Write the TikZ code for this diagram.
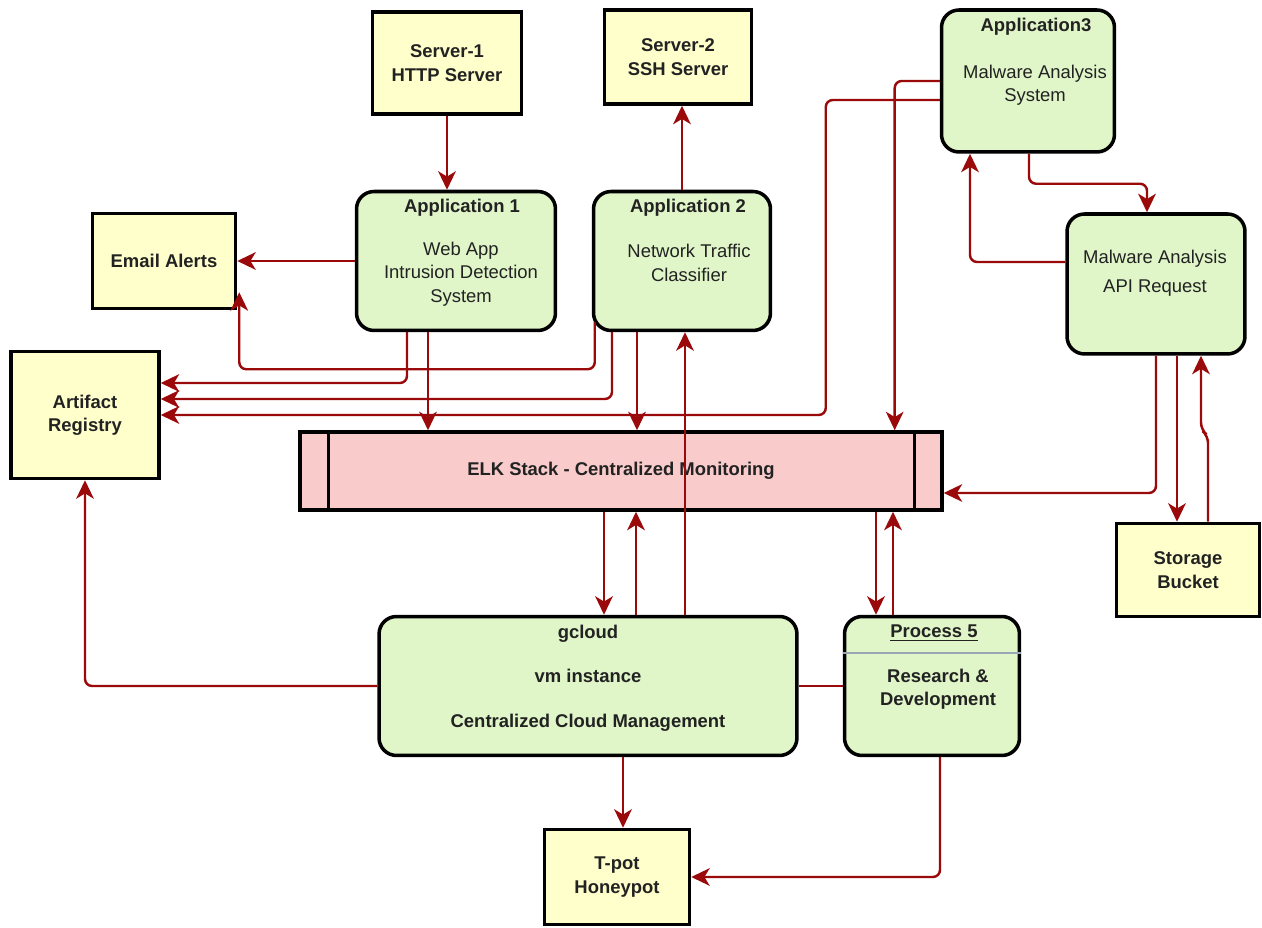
\documentclass[tikz,border=0pt]{standalone}
\usepackage{fontspec}
\setmainfont{Liberation Sans}
\usetikzlibrary{arrows.meta,positioning,calc}
\definecolor{flowColor}{HTML}{9B0A0A}
\definecolor{srvColor}{HTML}{FFFFCC}
\definecolor{appColor}{HTML}{E0F5C8}
\definecolor{elkColor}{HTML}{F9CBCB}
\definecolor{sepColor}{HTML}{98A8B4}
\definecolor{txtColor}{HTML}{222222}
\newcommand{\diagfont}{\fontsize{10.5}{13.3}\selectfont}
\tikzset{
	srvbox/.style={draw, line width=2pt, fill=srvColor, align=center, inner sep=2pt,
		font=\diagfont\bfseries, text=txtColor},
	appbox/.style={draw, line width=2pt, fill=appColor, rounded corners=3.5mm, inner sep=0},
	apptitle/.style={font=\diagfont\bfseries, text=txtColor, inner sep=1pt},
	appbody/.style={font=\diagfont, text=txtColor, align=center, inner sep=1pt},
	flow/.style={draw=flowColor, line width=1.4pt, rounded corners=4pt,
		-{Stealth[length=10.5pt,width=10pt,inset=3pt]}},
}

\begin{document}
\begin{tikzpicture}[x=0.02cm, y=-0.02cm]
	\useasboundingbox (0,0) rectangle (1262,928);
	% servers, alerts, storage
	\node[srvbox, minimum width=2.98cm, minimum height=2.04cm] (srv1) at (447,63) {Server-1\\HTTP Server};
	\node[srvbox, minimum width=2.94cm, minimum height=1.88cm] (srv2) at (678,57) {Server-2\\SSH Server};
	\node[srvbox, minimum width=2.86cm, minimum height=1.9cm] (email) at (164,261) {Email Alerts};
	\node[srvbox, minimum width=2.96cm, minimum height=2.54cm] (artifact) at (85,415) {Artifact\\Registry};
	\node[srvbox, minimum width=2.86cm, minimum height=1.86cm] (bucket) at (1188,570) {Storage\\Bucket};
	\node[srvbox, minimum width=2.9cm, minimum height=1.9cm] (tpot) at (617,877) {T-pot\\Honeypot};
	% applications
	\node[appbox, minimum width=3.98cm, minimum height=2.78cm] (app1) at (456,261) {};
	\node[apptitle] (app1_t) at (462,208) {Application 1};
	\node[appbody] (app1_b) at (461,274) {Web App\\Intrusion Detection\\System};
	\node[appbox, minimum width=3.54cm, minimum height=2.78cm] (app2) at (682,261) {};
	\node[apptitle] (app2_t) at (688,208) {Application 2};
	\node[appbody] (app2_b) at (689,263) {Network Traffic\\Classifier};
	\node[appbox, minimum width=3.46cm, minimum height=2.84cm] (app3) at (1028,81) {};
	\node[apptitle] (app3_t) at (1036,27) {Application3};
	\node[appbody] (app3_b) at (1035,85) {Malware Analysis\\System};
	\node[appbox, minimum width=3.56cm, minimum height=2.8cm] (api) at (1156,284) {};
	\node[appbody] (api_b) at (1155,273) {Malware Analysis\\[3pt]API Request};
	% monitoring and cloud
	\node[draw, line width=2pt, fill=elkColor, minimum width=12.84cm, minimum height=1.56cm,
		font=\diagfont\bfseries, text=txtColor] (elk) at (621,471) {ELK Stack - Centralized Monitoring};
	\draw[line width=2pt] ([xshift=0.6cm]elk.north west) -- ([xshift=0.6cm]elk.south west);
	\draw[line width=2pt] ([xshift=-0.58cm]elk.north east) -- ([xshift=-0.58cm]elk.south east);
	\node[appbox, minimum width=8.36cm, minimum height=2.78cm] (gcloud) at (588,686) {};
	\node[appbody, font=\diagfont\bfseries] (gcloud_t) at (588,678) {gcloud\\[12pt]vm instance\\[12pt]Centralized Cloud Management};
	\node[appbox, minimum width=3.5cm, minimum height=2.78cm] (proc5) at (932,686) {};
	\node[apptitle] (proc5_t) at (934,633) {\underline{Process 5}};
	\draw[sepColor, line width=1pt] ($(proc5.north west)+(0,38)$) -- ($(proc5.north east)+(0,38)$);
	\node[appbody, font=\diagfont\bfseries] (proc5_b) at (938,689) {Research \&\\Development};
	% connectors
	\draw[flow] (srv1.south) -- (srv1.south |- app1.north);
	\draw[flow] (app2.north) -- (app2.north |- srv2.south);
	\draw[flow] (app1.west) -- (app1.west -| email.east);
	\draw[flow] ($(app2.south west)+(3,-10)$) -- ++(0,47) -| ($(email.south east)+(2,-18)$);
	\draw[flow] ($(app1.south)+(-49,0)$) |- ($(artifact.east)+(0,-32)$);
	\draw[flow] ($(app2.south)+(-70,0)$) |- ($(artifact.east)+(0,-16)$);
	\draw[flow] ($(app3.west)+(0,19)$) -- ++(-114,0) |- (artifact.east);
	\draw[flow] ($(app1.south)+(-28,0)$) coordinate (c1) -- (c1 |- elk.north);
	\draw[flow] ($(app2.south)+(-45,0)$) coordinate (c2) -- (c2 |- elk.north);
	\draw[flow] (app3.west) -| ($(elk.north east)+(-49,0)$);
	\draw[flow] ($(gcloud.north)+(97,0)$) coordinate (c3) -- (c3 |- app2.south);
	\draw[flow] ($(elk.south)+(-17,0)$) coordinate (c4) -- (c4 |- gcloud.north);
	\draw[flow] ($(gcloud.north)+(48,0)$) coordinate (c5) -- (c5 |- elk.south);
	\draw[flow] ($(elk.south)+(255,0)$) coordinate (c6) -- (c6 |- proc5.north);
	\draw[flow] ($(proc5.north)+(-39,0)$) coordinate (c7) -- (c7 |- elk.south);
	\draw[flow] (api.south) |- ($(elk.east)+(0,22)$);
	\draw[flow] ($(api.south)+(21,0)$) coordinate (c8) -- (c8 |- bucket.north);
	\draw[flow] ($(bucket.north)+(20,0)$) -- ++(0,-86) -- ++(-7,-6) coordinate (c9) -- (c9 |- api.south);
	\draw[flow] ($(api.west)+(0,-22)$) -| ($(app3.south)+(-58,0)$);
	\draw[flow] ($(app3.south)+(1,0)$) -- ++(0,30) -| ($(api.north)+(-9,0)$);
	\draw[flow] (gcloud.west) -| (artifact.south);
	\draw[flow, -] (gcloud.east) -- (proc5.west);
	\draw[flow] ($(gcloud.south)+(35,0)$) coordinate (c10) -- (c10 |- tpot.north);
	\draw[flow] ($(proc5.south)+(8,0)$) |- (tpot.east);
\end{tikzpicture}
\end{document}
